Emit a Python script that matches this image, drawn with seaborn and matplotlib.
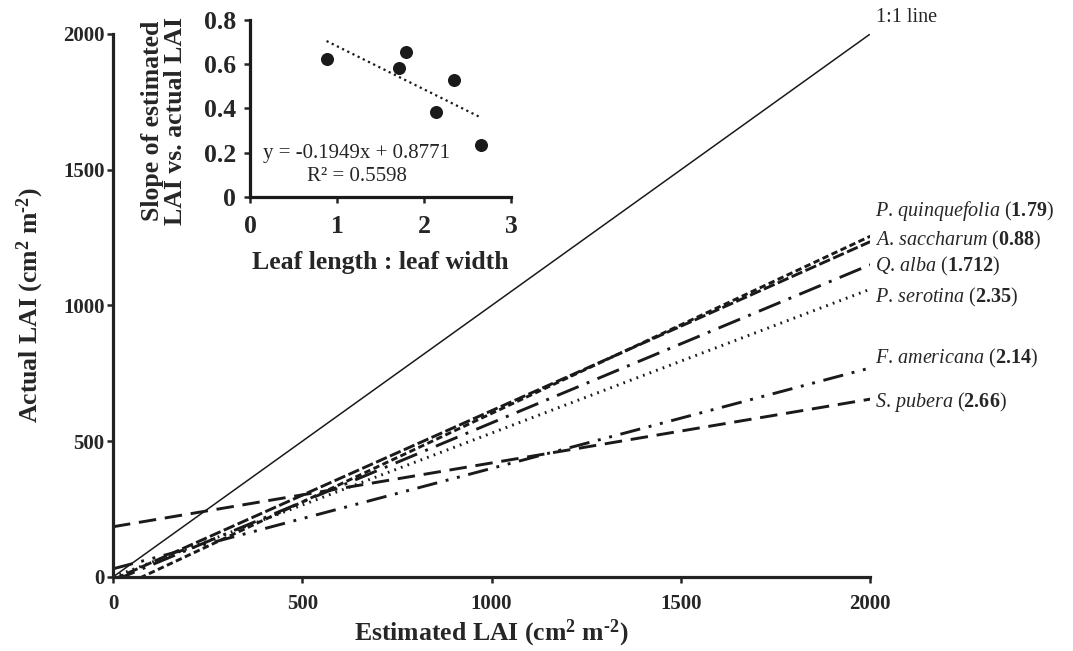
import numpy as np
import pandas as pd
import seaborn as sns
import matplotlib.pyplot as plt

# species, leaf length : leaf width ratio, regression intercept/slope (actual vs estimated LAI)
species = ['P. quinquefolia', 'A. saccharum', 'Q. alba', 'P. serotina', 'F. americana', 'S. pubera']
ratio_txt = ['1.79', '0.88', '1.712', '2.35', '2.14', '2.66']
intercepts = [-50, -10, -15, 0, 30, 185]
slopes = [0.6525, 0.6225, 0.5825, 0.53, 0.37, 0.235]

# inset: leaf ratio vs slope
leaf_ratio = [0.88, 1.712, 1.79, 2.35, 2.14, 2.66]
slope_pts = [0.624, 0.584, 0.654, 0.529, 0.384, 0.236]

est_range = [0, 2000]

sns.set_theme(style='ticks')
plt.rcParams['font.family'] = ['Liberation Serif', 'DejaVu Serif']
plt.rcParams['mathtext.fontset'] = 'custom'
plt.rcParams['mathtext.rm'] = 'Liberation Serif'
plt.rcParams['mathtext.it'] = 'Liberation Serif:italic'
plt.rcParams['mathtext.bf'] = 'Liberation Serif:bold'

rows = []
for sp, a, b in zip(species, intercepts, slopes):
    for x in est_range:
        rows.append({'species': sp, 'est': x, 'act': a + b * x})
df = pd.DataFrame(rows)
one = pd.DataFrame({'est': est_range, 'act': est_range})

dash_map = {
    'P. quinquefolia': (2.2, 1.2),
    'A. saccharum': (4, 1.2),
    'Q. alba': (8, 3, 1, 3),
    'P. serotina': (0.6, 1.8),
    'F. americana': (7, 3, 1, 3, 1, 3),
    'S. pubera': (6, 3),
}

fig = plt.figure(figsize=(10.73, 6.51), dpi=100)
ax = fig.add_axes([0.1053, 0.1137, 0.7057, 0.8341])

sns.lineplot(data=one, x='est', y='act', color='k', lw=1.1, ax=ax)
sns.lineplot(data=df, x='est', y='act', style='species', dashes=dash_map,
             color='k', lw=2.1, legend=False, ax=ax)

ax.set_xlim(0, 2000)
ax.set_ylim(0, 2000)
ax.set_xticks([0, 500, 1000, 1500, 2000])
ax.set_yticks([0, 500, 1000, 1500, 2000])
for lab in ax.get_xticklabels() + ax.get_yticklabels():
    lab.set_fontweight('bold')
    lab.set_fontsize(15)
sns.despine(ax=ax)
for s in ['left', 'bottom']:
    ax.spines[s].set_linewidth(2.3)
    ax.spines[s].set_color('#222222')
ax.tick_params(direction='out', length=4, width=1.8)
ax.tick_params(axis='x', pad=8)
ax.tick_params(axis='y', pad=2)
unit = r' (cm$^{\mathbf{2}}$ m$^{\mathbf{' + '\u2010' + r'2}}$)'
ax.set_xlabel('Estimated LAI' + unit, fontsize=18.5, fontweight='bold', labelpad=3)
ax.set_ylabel('Actual LAI' + unit, fontsize=18.5, fontweight='bold', labelpad=12)

# line labels
label_y = [1348, 1241, 1142, 1031, 803, 645]
for sp, r, y in zip(species, ratio_txt, label_y):
    genus, epithet = sp.split('. ')
    ax.text(2012, y, r'$\mathit{' + genus + r'}$. $\mathit{' + epithet + r'}$ ($\mathbf{' + r + r'}$)',
            fontsize=14.5, va='center', ha='left')
ax.text(2015, 2060, '1:1 line', fontsize=14.5, va='center', ha='left')

# inset
ins = fig.add_axes([0.233, 0.6974, 0.2432, 0.2719])
sns.regplot(x=leaf_ratio, y=slope_pts, ci=None, truncate=True, ax=ins,
            scatter_kws={'color': 'k', 's': 70, 'alpha': 1},
            line_kws={'color': 'k', 'ls': (0, (1, 1.6)), 'lw': 1.6})
ins.set_xlim(0, 3)
ins.set_ylim(0, 0.8)
ins.set_xticks([0, 1, 2, 3])
ins.set_yticks([0, 0.2, 0.4, 0.6, 0.8])
ins.set_yticklabels(['0', '0.2', '0.4', '0.6', '0.8'])
for lab in ins.get_xticklabels() + ins.get_yticklabels():
    lab.set_fontweight('bold')
    lab.set_fontsize(18.5)
sns.despine(ax=ins)
for s in ['left', 'bottom']:
    ins.spines[s].set_linewidth(2.3)
    ins.spines[s].set_color('k')
ins.tick_params(direction='out', length=4, width=1.8)
ins.tick_params(axis='x', pad=9)
ins.tick_params(axis='y', pad=6)
ins.set_xlabel('Leaf length : leaf width', fontsize=18.5, fontweight='bold', labelpad=9)
ins.set_ylabel('Slope of estimated\nLAI vs. actual LAI', fontsize=18.5,
               fontweight='bold', linespacing=1.0)
ins.yaxis.set_label_coords(-0.24, 0.43)
ins.text(1.23, 0.145, 'y = -0.1949x + 0.8771\nR\u00b2 = 0.5598', fontsize=15,
         ha='center', va='center', multialignment='center', linespacing=1.25)

fig.savefig('out.png', dpi=100)
